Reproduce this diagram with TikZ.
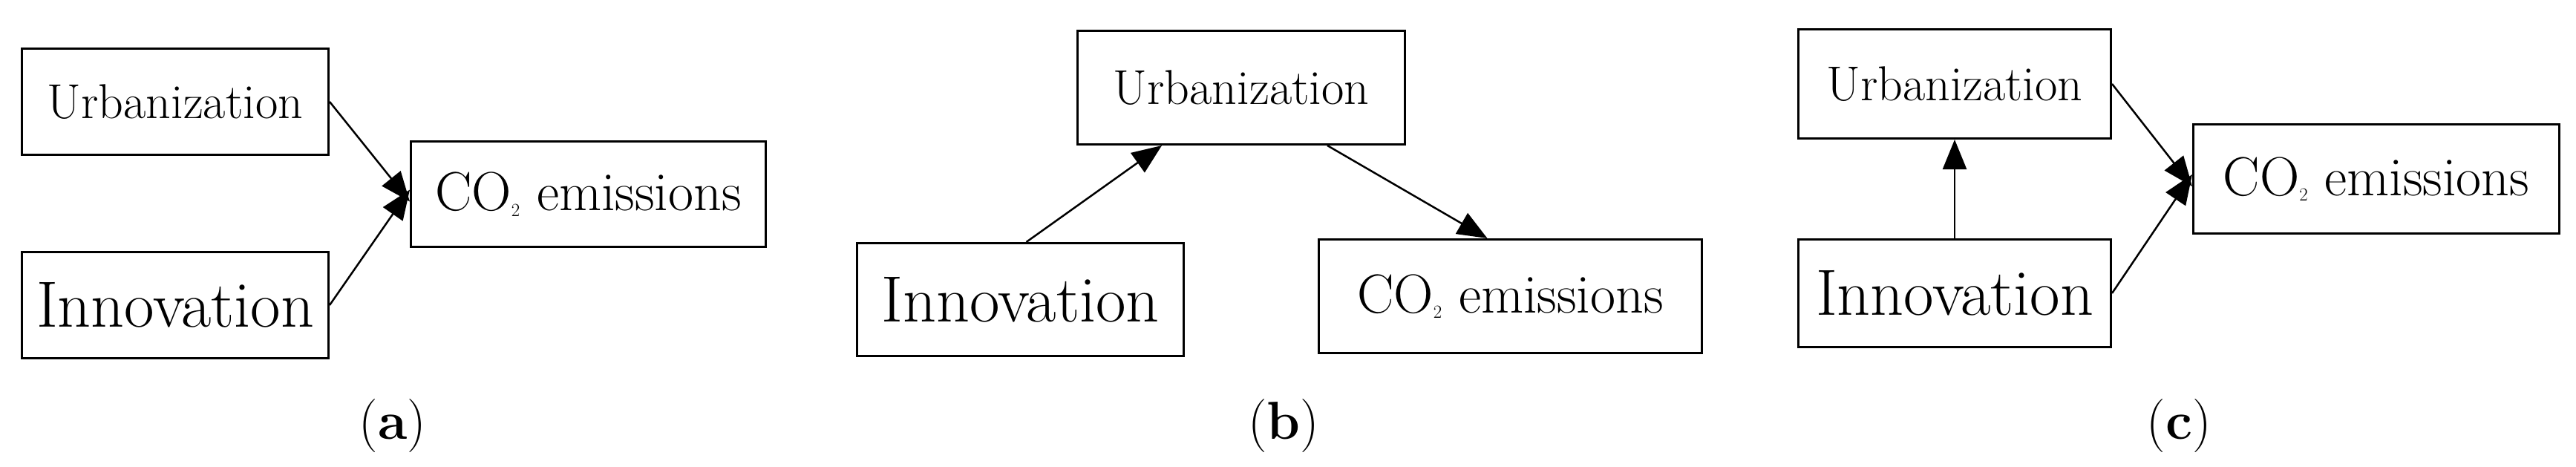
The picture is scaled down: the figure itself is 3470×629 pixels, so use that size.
\documentclass[tikz,border=0pt]{standalone}
\usetikzlibrary{arrows.meta}
\begin{document}
\begin{tikzpicture}[x=1pt,y=-1pt,
  box/.style={draw,line width=3pt,inner sep=0pt,anchor=north west},
  arr/.style={line width=2.5pt,-{Triangle[length=40pt,width=32pt]}},
  urbf/.style={font=\fontsize{66}{72}\selectfont},
  innf/.style={font=\fontsize{88}{96}\selectfont},
  cof/.style={font=\fontsize{74}{80}\selectfont},
  lab/.style={font=\fontsize{72}{80}\selectfont}]
\useasboundingbox (0,0) rectangle (3470,629);
% (a)
\node[box,urbf,minimum width=413pt,minimum height=143pt] (ua) at (28,64) {Urbanization};
\node[box,cof,minimum width=478pt,minimum height=142pt] (ca) at (552,189) {CO$_2$ emissions};
\node[box,innf,minimum width=413pt,minimum height=143pt] (ia) at (28,338) {Innovation};
\draw[arr] (ua.east) -- ([yshift=-10pt]ca.west);
\draw[arr] (ia.east) -- ([yshift=6pt]ca.west);
\node[lab] (la) at (529,574) {(\textbf{a})};
% (b)
\node[box,urbf,minimum width=441pt,minimum height=153pt] (ub) at (1450,40) {Urbanization};
\node[box,innf,minimum width=440pt,minimum height=152pt] (ib) at (1153,326) {Innovation};
\node[box,cof,minimum width=516pt,minimum height=153pt] (cb) at (1775,321) {CO$_2$ emissions};
\draw[arr] ([xshift=8pt]ib.north) -- ([xshift=-107pt]ub.south);
\draw[arr] ([xshift=116pt]ub.south) -- ([xshift=-31pt]cb.north);
\node[lab] (lb) at (1729,574) {(\textbf{b})};
% (c)
\node[box,urbf,minimum width=421pt,minimum height=147pt] (uc) at (2421,38) {Urbanization};
\node[box,innf,minimum width=421pt,minimum height=145pt] (ic) at (2421,321) {Innovation};
\node[box,cof,minimum width=493pt,minimum height=147pt] (cc) at (2953,166) {CO$_2$ emissions};
\draw[arr] (ic.north) -- (uc.south);
\draw[arr] (uc.east) -- ([yshift=-10pt]cc.west);
\draw[arr] (ic.east) -- ([yshift=6pt]cc.west);
\node[lab] (lc) at (2935,574) {(\textbf{c})};
\end{tikzpicture}
\end{document}
